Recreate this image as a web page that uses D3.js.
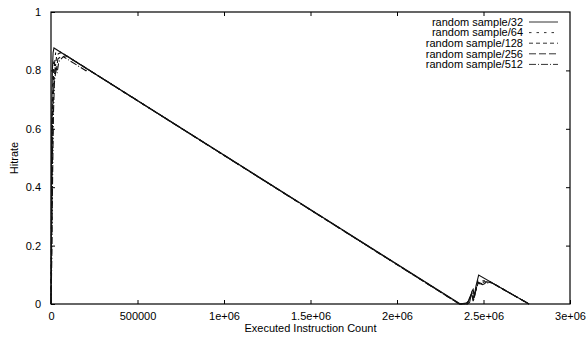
<!DOCTYPE html>
<html>
<head>
<meta charset="utf-8">
<script src="https://cdn.jsdelivr.net/npm/d3@7"></script>
<style>
  html, body { margin: 0; padding: 0; background: #fff; }
  svg { display: block; }
  text { font-family: "Liberation Sans", Arial, Helvetica, sans-serif; font-size: 11px; fill: #000; }
</style>
</head>
<body>
<svg id="chart" width="588" height="338"></svg>
<script>
// Hit rate over executed instructions for several random-sample sizes
const seriesNames = ["random sample/32", "random sample/64", "random sample/128", "random sample/256", "random sample/512"];

const sample32 = [[0,0],[1500,0.3],[4000,0.62],[8000,0.8],[12000,0.86],[17000,0.877],[2366000,0],[2408000,0],[2420000,0.006],[2432000,0.042],[2440000,0.05],[2447000,0.027],[2456000,0.06],[2462000,0.075],[2472000,0.099],[2763000,0]];
const sample64 = [[0,0],[2000,0.22],[5000,0.5],[9000,0.72],[13000,0.8],[17000,0.84],[22000,0.83],[27000,0.862],[40000,0.868],[2362000,0],[2405000,0],[2418000,0.01],[2430000,0.035],[2438000,0.044],[2446000,0.02],[2458000,0.055],[2468000,0.082],[2490000,0.079],[2512000,0.08],[2530000,0.079],[2763000,0]];
const sample128 = [[0,0],[2500,0.2],[6000,0.48],[10000,0.7],[15000,0.79],[21000,0.83],[26000,0.815],[33000,0.852],[45000,0.858],[60000,0.861],[2363000,0],[2402000,0.002],[2415000,0.012],[2428000,0.03],[2436000,0.04],[2444000,0.016],[2456000,0.05],[2468000,0.075],[2485000,0.07],[2505000,0.076],[2520000,0.076],[2547000,0.073],[2763000,0]];
const sample256 = [[0,0],[3500,0.18],[7500,0.45],[12000,0.68],[18000,0.77],[25000,0.815],[31000,0.8],[40000,0.84],[55000,0.846],[90000,0.85],[2361000,0],[2400000,0.003],[2412000,0.008],[2425000,0.028],[2434000,0.038],[2442000,0.012],[2455000,0.045],[2468000,0.07],[2480000,0.072],[2500000,0.068],[2518000,0.076],[2547000,0.073],[2763000,0]];
const sample512 = [[0,0],[4500,0.15],[9000,0.42],[14000,0.65],[20000,0.76],[28000,0.8],[35000,0.79],[45000,0.83],[71000,0.847],[202000,0.799],[210000,0.805],[2360000,0],[2398000,0.002],[2410000,0.006],[2422000,0.024],[2432000,0.034],[2440000,0.01],[2452000,0.04],[2466000,0.066],[2478000,0.07],[2495000,0.066],[2515000,0.072],[2547000,0.073],[2763000,0]];

const xTickValues = [0, 500000, 1000000, 1500000, 2000000, 2500000, 3000000];
const xTickLabels = ["0", "500000", "1e+06", "1.5e+06", "2e+06", "2.5e+06", "3e+06"];
const yTickValues = [0, 0.2, 0.4, 0.6, 0.8, 1];
const yTickLabels = ["0", "0.2", "0.4", "0.6", "0.8", "1"];

const allSeries = [sample32, sample64, sample128, sample256, sample512];
const dashes = [null, "2.5,5", "4,3", "7,3", "7,2,1,2"];

const svg = d3.select("#chart");
const plotLeft = 51, plotRight = 570, plotTop = 12, plotBottom = 304;

const x = d3.scaleLinear().domain([0, 3000000]).range([plotLeft, plotRight]);
const y = d3.scaleLinear().domain([0, 1]).range([plotBottom, plotTop]);

const tickLen = 4;

// axes: tick marks point inward, mirrored on top and right
const xAxisBottom = d3.axisBottom(x).tickValues(xTickValues)
  .tickFormat((d, i) => xTickLabels[i]).tickSizeInner(-tickLen).tickSizeOuter(0).tickPadding(8);
const xAxisTop = d3.axisTop(x).tickValues(xTickValues.slice(1, -1))
  .tickFormat("").tickSizeInner(-tickLen).tickSizeOuter(0);
const yAxisLeft = d3.axisLeft(y).tickValues(yTickValues)
  .tickFormat((d, i) => yTickLabels[i]).tickSizeInner(-tickLen).tickSizeOuter(0).tickPadding(10);
const yAxisRight = d3.axisRight(y).tickValues(yTickValues.slice(1, -1))
  .tickFormat("").tickSizeInner(-tickLen).tickSizeOuter(0);

function styleAxis(g) {
  g.select(".domain").remove();
  g.selectAll(".tick line").attr("stroke", "#000");
  g.selectAll(".tick text").attr("font-size", 11)
    .attr("font-family", "'Liberation Sans', Arial, sans-serif").attr("fill", "#000");
}

svg.append("g").attr("transform", `translate(0,${plotBottom})`).call(xAxisBottom).call(styleAxis);
svg.append("g").attr("transform", `translate(0,${plotTop})`).call(xAxisTop).call(styleAxis);
svg.append("g").attr("transform", `translate(${plotLeft},0)`).call(yAxisLeft).call(styleAxis);
svg.append("g").attr("transform", `translate(${plotRight},0)`).call(yAxisRight).call(styleAxis);

// plot frame
svg.append("rect")
  .attr("x", plotLeft).attr("y", plotTop)
  .attr("width", plotRight - plotLeft).attr("height", plotBottom - plotTop)
  .attr("fill", "none").attr("stroke", "#000").attr("stroke-width", 1.2);

// series lines
const line = d3.line().x(d => x(d[0])).y(d => y(d[1]));
allSeries.forEach((s, i) => {
  svg.append("path")
    .datum(s)
    .attr("d", line)
    .attr("fill", "none")
    .attr("stroke", "#111")
    .attr("stroke-width", 1.1)
    .attr("stroke-dasharray", dashes[i]);
});

// legend, labels right-aligned with a line sample beside each
const legend = svg.append("g");
seriesNames.forEach((name, i) => {
  const ly = 22 + i * 10.6;
  legend.append("text")
    .attr("x", 523).attr("y", ly).attr("dy", "0.35em")
    .attr("text-anchor", "end")
    .attr("font-size", 10.5)
    .text(name);
  legend.append("line")
    .attr("x1", 529).attr("x2", 558)
    .attr("y1", ly).attr("y2", ly)
    .attr("stroke", "#333").attr("stroke-width", 1)
    .attr("stroke-dasharray", dashes[i]);
});

// axis titles
svg.append("text")
  .attr("x", (plotLeft + plotRight) / 2).attr("y", 332)
  .attr("text-anchor", "middle")
  .text("Executed Instruction Count");

svg.append("text")
  .attr("transform", `translate(18,${(plotTop + plotBottom) / 2}) rotate(-90)`)
  .attr("text-anchor", "middle")
  .text("Hitrate");
</script>
</body>
</html>
